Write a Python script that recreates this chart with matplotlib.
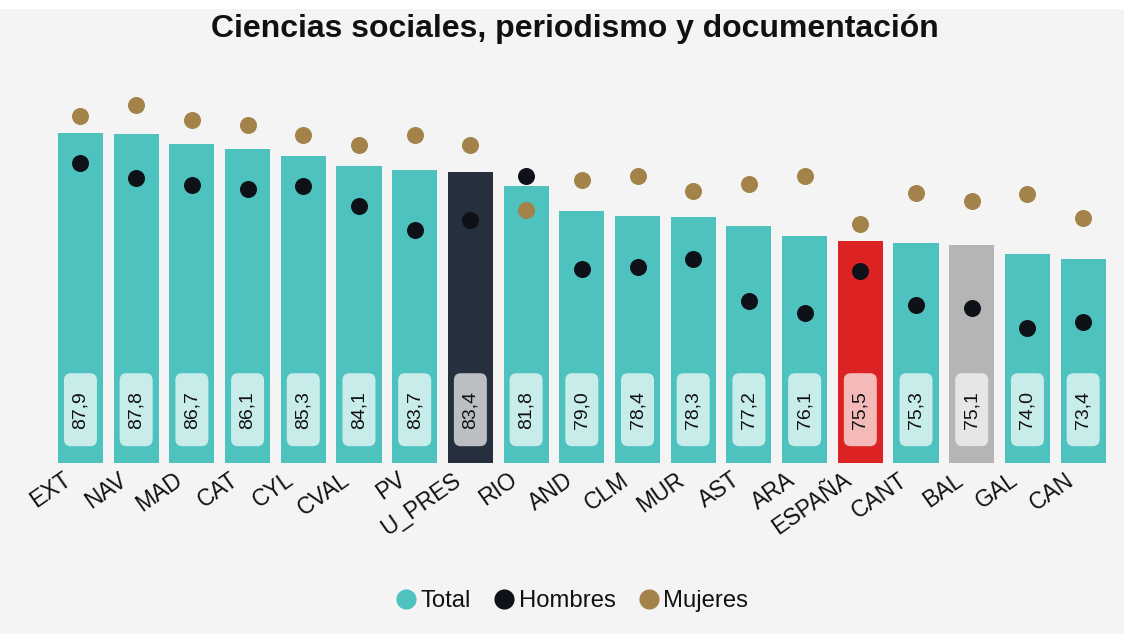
import matplotlib
matplotlib.use("Agg")
import matplotlib.pyplot as plt
import matplotlib.transforms as mtransforms
from matplotlib.patches import FancyBboxPatch
from matplotlib.lines import Line2D

categories = ["EXT", "NAV", "MAD", "CAT", "CYL", "CVAL", "PV", "U_PRES", "RIO",
              "AND", "CLM", "MUR", "AST", "ARA", "ESPAÑA", "CANT", "BAL", "GAL", "CAN"]
total = [87.9, 87.8, 86.7, 86.1, 85.3, 84.1, 83.7, 83.4, 81.8,
         79.0, 78.4, 78.3, 77.2, 76.1, 75.5, 75.3, 75.1, 74.0, 73.4]
hombres = [84.5, 82.8, 82.0, 81.5, 81.8, 79.5, 76.8, 77.9, 83.0,
           72.3, 72.5, 73.4, 68.6, 67.2, 72.1, 68.2, 67.8, 65.5, 66.2]
mujeres = [89.9, 91.2, 89.4, 88.9, 87.7, 86.6, 87.7, 86.6, 79.1,
           82.5, 83.0, 81.3, 82.1, 83.0, 77.5, 81.0, 80.1, 80.9, 78.2]
title = "Ciencias sociales, periodismo y documentación"

TEAL = "#4DC2BF"
BG = "#F4F4F4"
special_bar = {"U_PRES": "#252F3E", "ESPAÑA": "#DC2222", "BAL": "#B5B5B5"}
special_box = {"U_PRES": "#BBBEC2", "ESPAÑA": "#F4BABA", "BAL": "#E6E6E6"}
BOX = "#C8ECEA"
C_H = "#0E1117"
C_M = "#A3834A"

plt.rcParams["font.family"] = ["Liberation Sans", "DejaVu Sans"]

DPI = 100
fig = plt.figure(figsize=(11.24, 6.34), dpi=DPI, facecolor="white")
fig.patches.append(plt.Rectangle((0, 0), 1, 1 - 9 / 634, transform=fig.transFigure,
                                 facecolor=BG, edgecolor="none", zorder=-10))
ax = fig.add_axes([52.6 / 1124, 171.3 / 634, (1111 - 52.6) / 1124, 391 / 634])
ax.set_facecolor("none")
ymin, ymax = 50, 95
ax.set_ylim(ymin, ymax)
x = list(range(len(categories)))
ax.set_xlim(-0.5, len(categories) - 0.5)

colors = [special_bar.get(c, TEAL) for c in categories]
ax.bar(x, [t - ymin for t in total], bottom=ymin, width=0.81, color=colors, zorder=1)

ax.scatter(x, hombres, s=150, color=C_H, zorder=3, linewidths=0)
ax.scatter(x, mujeres, s=150, color=C_M, zorder=3, linewidths=0)

# value labels in rounded boxes
box_y = 56.1
scale = mtransforms.Affine2D().scale(DPI / 72.0)
bw, bh = 33 * 72 / DPI, 73 * 72 / DPI
for xi, c, t in zip(x, categories, total):
    tr = scale + mtransforms.ScaledTranslation(xi, box_y, ax.transData)
    p = FancyBboxPatch((-bw / 2, -bh / 2), bw, bh,
                       boxstyle="round,pad=0,rounding_size=%f" % (7 * 72 / DPI),
                       transform=tr, facecolor=special_box.get(c, BOX),
                       edgecolor="none", zorder=4)
    ax.add_patch(p)
    ax.text(xi, box_y, ("%.1f" % t).replace(".", ","), rotation=90,
            ha="center", va="center", fontsize=14, color="#111111", zorder=5)

ax.set_xticks(x)
ax.set_xticklabels(categories, rotation=35, ha="right", rotation_mode="anchor",
                   fontsize=16.5, color="#111111")
ax.tick_params(axis="x", length=0, pad=4)
offset = mtransforms.ScaledTranslation(-18 / DPI, 0, fig.dpi_scale_trans)
for lab in ax.get_xticklabels():
    lab.set_transform(lab.get_transform() + offset)
ax.set_yticks([])
for s in ax.spines.values():
    s.set_visible(False)

fig.text(575 / 1124, 1 - 29 / 634, title, ha="center", va="center",
         fontsize=23, fontweight="bold", color="#111111")

handles = [Line2D([], [], marker="o", linestyle="none", markersize=14.5,
                  markerfacecolor=col, markeredgecolor="none")
           for col in (TEAL, C_H, C_M)]
fig.legend(handles, ["Total", "Hombres", "Mujeres"], loc="center",
           bbox_to_anchor=(570 / 1124, 1 - 601 / 634), ncol=3, frameon=False,
           fontsize=17.2, handletextpad=0.0, columnspacing=0.8, handlelength=1.2,
           labelcolor="#111111")

fig.savefig("out.png", dpi=DPI, facecolor=fig.get_facecolor())
